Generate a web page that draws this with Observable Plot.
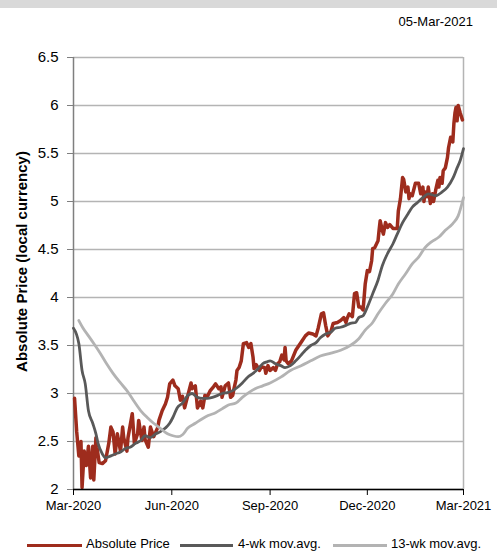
<!DOCTYPE html>
<html>
<head>
<meta charset="utf-8">
<script src="https://cdn.jsdelivr.net/npm/d3@7"></script>
<script src="https://cdn.jsdelivr.net/npm/@observablehq/plot@0.6"></script>
<style>
  html, body { margin: 0; padding: 0; background: #fff; }
  body { width: 497px; height: 551px; position: relative; overflow: hidden; font-family: "Liberation Sans", Arial, sans-serif; }
  #banner { position: absolute; left: 0; top: 0; width: 497px; height: 8px; background: #d9d9d9; }
  #date { position: absolute; right: 24px; top: 14px; font-size: 13px; line-height: 15px; color: #000; }
  #chart { position: absolute; left: 0; top: 40px; }
  #legend { position: absolute; top: 536px; left: 0; width: 497px; height: 15px; font-size: 13px; line-height: 15px; color: #000; }
  .sw { position: absolute; top: 8px; height: 3px; }
  .lt { position: absolute; top: 0; white-space: nowrap; }
</style>
</head>
<body>
<div id="banner"></div>
<div id="date">05-Mar-2021</div>
<div id="chart"></div>
<div id="legend"></div>
<script>
// ---- data ----
const seriesNames = ["Absolute Price", "4-wk mov.avg.", "13-wk mov.avg."];
const seriesColors = ["#9e2c1d", "#595959", "#b3b3b3"];
const yTicks = [2, 2.5, 3, 3.5, 4, 4.5, 5, 5.5, 6, 6.5];
const xTicks = ["2020-03-01", "2020-06-01", "2020-09-01", "2020-12-01", "2021-03-01"];
const xDomain = ["2020-03-01", "2021-03-01"];
const reportDate = "05-Mar-2021";
const yLabel = "Absolute Price (local currency)";

const priceDates = [
  "2020-03-02","2020-03-04","2020-03-06","2020-03-08","2020-03-09","2020-03-11","2020-03-13","2020-03-15","2020-03-17","2020-03-19",
  "2020-03-20","2020-03-22","2020-03-23","2020-03-25","2020-03-28","2020-03-31","2020-04-03","2020-04-05","2020-04-07","2020-04-09",
  "2020-04-11","2020-04-14","2020-04-16","2020-04-17","2020-04-20","2020-04-21","2020-04-25","2020-04-27","2020-04-30","2020-05-01",
  "2020-05-04","2020-05-06","2020-05-07","2020-05-10","2020-05-12","2020-05-15","2020-05-19","2020-05-20","2020-05-23","2020-05-26",
  "2020-05-28","2020-05-30","2020-06-02","2020-06-04","2020-06-07","2020-06-09","2020-06-11","2020-06-13","2020-06-16","2020-06-19",
  "2020-06-20","2020-06-23","2020-06-25","2020-06-28","2020-06-30","2020-07-02","2020-07-04","2020-07-07","2020-07-10","2020-07-12",
  "2020-07-15","2020-07-17","2020-07-18","2020-07-21","2020-07-24","2020-07-26","2020-07-28","2020-07-29","2020-07-31","2020-08-01",
  "2020-08-03","2020-08-05","2020-08-07","2020-08-10","2020-08-12","2020-08-14","2020-08-16","2020-08-17","2020-08-19","2020-08-22",
  "2020-08-24","2020-08-27","2020-08-28","2020-08-30","2020-09-01","2020-09-04","2020-09-06","2020-09-08","2020-09-10","2020-09-12",
  "2020-09-14","2020-09-15","2020-09-16","2020-09-18","2020-09-21","2020-09-25","2020-09-28","2020-10-01","2020-10-04","2020-10-07",
  "2020-10-11","2020-10-14","2020-10-16","2020-10-19","2020-10-21","2020-10-23","2020-10-25","2020-10-28","2020-10-30","2020-11-03",
  "2020-11-06","2020-11-09","2020-11-11","2020-11-12","2020-11-14","2020-11-17","2020-11-19","2020-11-21","2020-11-23","2020-11-25",
  "2020-11-27","2020-11-28","2020-11-29","2020-12-01","2020-12-03","2020-12-05","2020-12-06","2020-12-08","2020-12-11","2020-12-12",
  "2020-12-13","2020-12-15","2020-12-16","2020-12-18","2020-12-20","2020-12-22","2020-12-25","2020-12-27","2020-12-29","2020-12-30",
  "2021-01-01","2021-01-03","2021-01-04","2021-01-06","2021-01-08","2021-01-09","2021-01-10","2021-01-12","2021-01-15","2021-01-18",
  "2021-01-20","2021-01-22","2021-01-23","2021-01-24","2021-01-26","2021-01-27","2021-01-29","2021-01-31","2021-02-01","2021-02-03",
  "2021-02-05","2021-02-06","2021-02-07","2021-02-09","2021-02-10","2021-02-12","2021-02-14","2021-02-15","2021-02-17","2021-02-19",
  "2021-02-20","2021-02-21","2021-02-22","2021-02-23","2021-02-24","2021-02-26","2021-02-28"
];
const priceValues = [
  2.95,2.6,2.35,2.5,2.02,2.4,2.25,2.45,2.12,2.45,
  2.1,2.54,2.44,2.28,2.27,2.3,2.48,2.65,2.6,2.37,
  2.58,2.4,2.65,2.54,2.4,2.54,2.79,2.48,2.58,2.72,
  2.51,2.65,2.52,2.44,2.65,2.55,2.65,2.72,2.82,2.89,
  2.96,3.1,3.14,3.08,3.05,2.93,2.97,2.85,2.98,3.11,
  3.05,3.08,2.85,2.92,2.85,2.98,2.96,3.03,3.07,3.1,
  3.05,3.07,2.96,3.08,3.11,2.96,2.98,3.04,3.14,3.24,
  3.27,3.34,3.52,3.53,3.48,3.52,3.38,3.26,3.3,3.24,
  3.28,3.27,3.21,3.29,3.24,3.27,3.24,3.31,3.33,3.4,
  3.35,3.48,3.34,3.31,3.34,3.45,3.5,3.55,3.6,3.63,
  3.62,3.6,3.68,3.83,3.84,3.71,3.6,3.65,3.73,3.74,
  3.76,3.79,3.74,3.78,3.83,3.8,4.04,4.05,3.9,3.9,
  3.87,4.0,4.14,4.28,4.27,4.38,4.51,4.52,4.59,4.7,
  4.8,4.7,4.66,4.78,4.73,4.76,4.72,4.72,4.72,4.9,
  5.03,5.25,5.23,5.1,5.15,5.03,5.08,5.06,5.19,5.19,
  5.08,5.15,5.0,5.1,5.05,5.15,4.98,5.08,5.0,5.12,
  5.22,5.15,5.25,5.19,5.32,5.35,5.46,5.56,5.67,5.62,
  5.81,5.92,5.98,5.84,6.0,5.92,5.85
];

const ma4Dates = [
  "2020-03-01","2020-03-06","2020-03-09","2020-03-12","2020-03-15","2020-03-19","2020-03-22","2020-03-24","2020-03-28","2020-03-31",
  "2020-04-05","2020-04-09","2020-04-14","2020-04-19","2020-04-23","2020-04-28","2020-05-03","2020-05-07","2020-05-12","2020-05-17",
  "2020-05-21","2020-05-26","2020-05-30","2020-06-02","2020-06-06","2020-06-11","2020-06-16","2020-06-20","2020-06-25","2020-06-30",
  "2020-07-04","2020-07-09","2020-07-14","2020-07-18","2020-07-23","2020-07-28","2020-08-01","2020-08-06","2020-08-11","2020-08-16",
  "2020-08-21","2020-08-25","2020-08-29","2020-09-01","2020-09-06","2020-09-11","2020-09-15","2020-09-20","2020-09-25","2020-09-30",
  "2020-10-04","2020-10-09","2020-10-14","2020-10-18","2020-10-23","2020-10-28","2020-11-01","2020-11-06","2020-11-11","2020-11-15",
  "2020-11-20","2020-11-23","2020-11-27","2020-12-01","2020-12-06","2020-12-11","2020-12-15","2020-12-20","2020-12-25","2020-12-29",
  "2021-01-03","2021-01-08","2021-01-12","2021-01-17","2021-01-22","2021-01-27","2021-02-03","2021-02-09","2021-02-14","2021-02-19",
  "2021-02-23","2021-02-26","2021-03-01"
];
const ma4Values = [
  3.68,3.52,3.24,3.1,2.82,2.69,2.58,2.48,2.37,2.33,
  2.35,2.37,2.39,2.43,2.44,2.48,2.51,2.56,2.54,2.58,
  2.6,2.64,2.69,2.75,2.85,2.9,2.98,3.0,2.96,2.95,
  2.95,2.96,2.98,3.0,3.01,3.03,3.06,3.11,3.17,3.21,
  3.26,3.31,3.33,3.34,3.31,3.29,3.27,3.29,3.34,3.4,
  3.45,3.5,3.53,3.58,3.62,3.64,3.68,3.69,3.71,3.73,
  3.74,3.79,3.81,3.9,4.04,4.18,4.33,4.46,4.56,4.66,
  4.78,4.87,4.94,4.99,5.04,5.08,5.06,5.1,5.15,5.24,
  5.35,5.43,5.55
];

const ma13Dates = [
  "2020-03-06","2020-03-10","2020-03-15","2020-03-20","2020-03-26","2020-04-01","2020-04-07","2020-04-14","2020-04-20","2020-04-26",
  "2020-05-03","2020-05-09","2020-05-15","2020-05-21","2020-05-28","2020-06-02","2020-06-07","2020-06-11","2020-06-16","2020-06-23",
  "2020-06-30","2020-07-05","2020-07-12","2020-07-18","2020-07-24","2020-07-31","2020-08-06","2020-08-12","2020-08-18","2020-08-25",
  "2020-09-01","2020-09-11","2020-09-20","2020-09-30","2020-10-09","2020-10-18","2020-10-28","2020-11-06","2020-11-15","2020-11-23",
  "2020-11-29","2020-12-06","2020-12-11","2020-12-18","2020-12-25","2020-12-30","2021-01-06","2021-01-12","2021-01-18","2021-01-24",
  "2021-01-30","2021-02-06","2021-02-12","2021-02-19","2021-02-24","2021-03-01"
];
const ma13Values = [
  3.76,3.68,3.6,3.52,3.42,3.31,3.21,3.11,3.03,2.93,
  2.82,2.75,2.69,2.64,2.58,2.56,2.55,2.57,2.64,2.69,
  2.74,2.77,2.8,2.84,2.88,2.9,2.96,3.01,3.05,3.08,
  3.11,3.17,3.24,3.29,3.34,3.39,3.42,3.45,3.5,3.57,
  3.66,3.74,3.83,3.94,4.04,4.14,4.25,4.35,4.42,4.52,
  4.58,4.63,4.7,4.77,4.85,5.04
];

// ---- build tables ----
const parse = d3.utcParse("%Y-%m-%d");
const toRows = (dates, values) => dates.map((d, i) => ({date: parse(d), value: values[i]}));
const price = toRows(priceDates, priceValues);
const ma4 = toRows(ma4Dates, ma4Values);
const ma13 = toRows(ma13Dates, ma13Values);
const xd = xDomain.map(parse);
const xt = xTicks.map(parse);

document.getElementById("date").textContent = reportDate;

const chart = Plot.plot({
  width: 497,
  height: 490,
  marginTop: 17,
  marginBottom: 41,
  marginLeft: 73,
  marginRight: 34,
  style: {fontFamily: "'Liberation Sans', Arial, sans-serif", fontSize: "13px", color: "#000", background: "transparent", overflow: "visible"},
  x: {type: "utc", domain: xd},
  y: {domain: [2, 6.5]},
  marks: [
    Plot.ruleY(yTicks, {stroke: "#b4b4b4", strokeWidth: 1.5}),
    Plot.ruleX([xd[1]], {stroke: "#b4b4b4", strokeWidth: 1.5}),
    Plot.ruleX([xd[0]], {stroke: "#7f7f7f", strokeWidth: 1.5}),
    Plot.axisY({ticks: yTicks, tickSize: 6, tickPadding: 9, stroke: "#7f7f7f", label: null, fontSize: 15, tickFormat: d => String(d)}),
    Plot.lineY(price, {x: "date", y: "value", stroke: seriesColors[0], strokeWidth: 3.5, strokeLinejoin: "round"}),
    Plot.lineY(ma4, {x: "date", y: "value", stroke: seriesColors[1], strokeWidth: 2.8, curve: "monotone-x"}),
    Plot.lineY(ma13, {x: "date", y: "value", stroke: seriesColors[2], strokeWidth: 2.8, curve: "monotone-x"}),
    Plot.ruleY([2], {stroke: "#000", strokeWidth: 1.5}),
    Plot.axisX({ticks: xt, tickSize: 6, tickPadding: 5, stroke: "#000", label: null, tickFormat: d3.utcFormat("%b-%Y")}),
    Plot.text([yLabel], {frameAnchor: "left", textAnchor: "middle", dx: -51, dy: -12, rotate: -90, fontWeight: "bold", fontSize: 15, text: d => d})
  ]
});
document.getElementById("chart").appendChild(chart);

// ---- legend ----
const legend = document.getElementById("legend");
const swatchX = [27, 180, 333];
const swatchW = [55, 53, 54];
const textX = [86, 238, 391];
seriesNames.forEach((name, i) => {
  const sw = document.createElement("div");
  sw.className = "sw";
  sw.style.left = swatchX[i] + "px";
  sw.style.width = swatchW[i] + "px";
  sw.style.background = seriesColors[i];
  legend.appendChild(sw);
  const t = document.createElement("div");
  t.className = "lt";
  t.style.left = textX[i] + "px";
  t.textContent = name;
  legend.appendChild(t);
});
</script>
</body>
</html>
